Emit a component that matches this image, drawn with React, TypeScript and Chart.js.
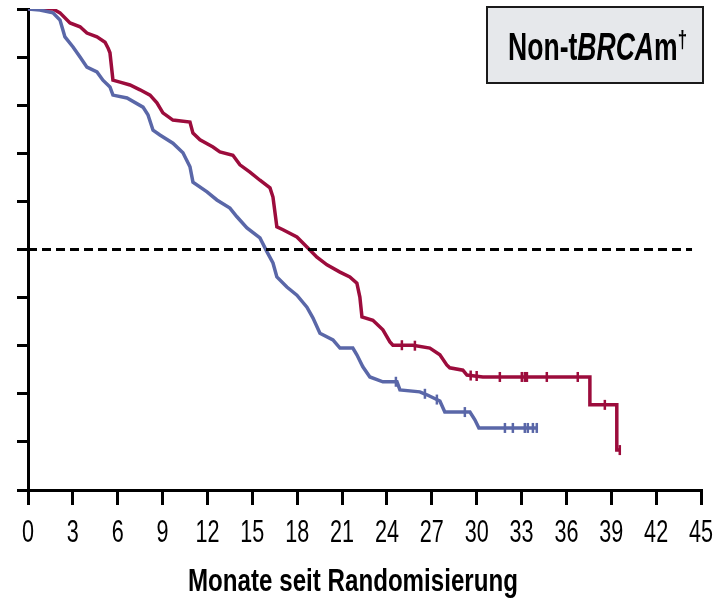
import React, { useEffect, useRef } from "react";
import { Chart, registerables } from "chart.js";

Chart.register(...registerables);

const xTicks = [0, 3, 6, 9, 12, 15, 18, 21, 24, 27, 30, 33, 36, 39, 42, 45];
const xTitle = "Monate seit Randomisierung";
const boxLabel = ["Non-t", "BRCA", "m", "†"];

// Kaplan-Meier paths (months, survival fraction)
const redTimes = [0, 1.67, 2.14, 2.81, 3.48, 3.94, 4.61, 5.15, 5.35, 5.48, 5.68, 6.15, 6.82, 7.49, 8.16, 8.62, 9.02, 9.69, 10.83, 11.03, 11.5, 12.37, 12.83, 13.7, 14.17, 14.84, 15.51, 16.18, 16.38, 16.64, 17.05, 17.98, 18.65, 19.32, 19.99, 20.86, 21.52, 21.99, 22.19, 22.33, 23.06, 23.73, 24.2, 24.4, 25.74, 26.87, 27.54, 28.0, 28.2, 29.08, 29.35, 30.41, 37.57, 37.57, 39.37, 39.37, 39.57];
const redSurv = [1.0, 1.0, 0.992, 0.971, 0.963, 0.95, 0.942, 0.931, 0.919, 0.909, 0.852, 0.848, 0.842, 0.832, 0.821, 0.805, 0.784, 0.769, 0.765, 0.742, 0.728, 0.713, 0.703, 0.696, 0.676, 0.661, 0.644, 0.628, 0.609, 0.547, 0.541, 0.526, 0.505, 0.484, 0.468, 0.453, 0.443, 0.43, 0.401, 0.36, 0.353, 0.333, 0.308, 0.301, 0.301, 0.295, 0.281, 0.26, 0.254, 0.249, 0.239, 0.235, 0.235, 0.177, 0.177, 0.083, 0.083];

const blueTimes = [0, 0.8, 1.67, 2.14, 2.47, 3.01, 3.48, 3.94, 4.61, 5.01, 5.48, 5.68, 6.62, 7.69, 8.02, 8.36, 8.82, 9.69, 10.36, 10.83, 11.03, 11.97, 12.63, 13.5, 13.97, 14.64, 15.51, 15.98, 16.38, 16.64, 17.31, 17.98, 18.65, 19.05, 19.52, 20.39, 20.86, 21.72, 21.99, 22.39, 22.86, 23.73, 24.67, 24.87, 26.2, 26.67, 27.54, 27.87, 29.55, 29.88, 30.15, 34.02];
const blueSurv = [1.0, 0.998, 0.992, 0.977, 0.942, 0.921, 0.9, 0.879, 0.869, 0.852, 0.838, 0.821, 0.815, 0.796, 0.78, 0.748, 0.738, 0.721, 0.701, 0.672, 0.64, 0.62, 0.603, 0.586, 0.568, 0.545, 0.524, 0.495, 0.472, 0.443, 0.422, 0.405, 0.38, 0.358, 0.326, 0.312, 0.295, 0.295, 0.281, 0.256, 0.235, 0.225, 0.225, 0.208, 0.204, 0.198, 0.185, 0.162, 0.162, 0.146, 0.129, 0.129];

const redCensorTimes = [25.0, 25.87, 29.6, 30.0, 31.55, 33.02, 33.22, 33.36, 34.69, 36.76, 38.57, 39.57];
const redCensorSurv = [0.301, 0.3, 0.238, 0.237, 0.235, 0.235, 0.235, 0.235, 0.235, 0.235, 0.177, 0.083];

const blueCensorTimes = [24.6, 26.54, 27.34, 29.21, 31.89, 32.42, 33.22, 33.42, 33.76, 34.02];
const blueCensorSurv = [0.225, 0.2, 0.188, 0.162, 0.129, 0.129, 0.129, 0.129, 0.129, 0.129];

const medianLineX = [0, 44.4];
const medianLineY = [0.5, 0.5];

const RED = "#9c0c3c";
const BLUE = "#5a67a8";
const SANS = "'Liberation Sans', Arial, sans-serif";

const zip = (xs: number[], ys: number[]) => xs.map((x, i) => ({ x, y: ys[i] }));

const textPlugin = {
  id: "textPlugin",
  afterDraw(chart: any) {
    const ctx = chart.ctx as CanvasRenderingContext2D;
    const xs = chart.scales.x;
    const bottom = xs.top;

    // tick labels (narrow look via horizontal compression)
    ctx.save();
    ctx.fillStyle = "#000";
    ctx.textAlign = "center";
    ctx.textBaseline = "alphabetic";
    ctx.font = `27px ${SANS}`;
    xTicks.forEach((v) => {
      const px = xs.getPixelForValue(v);
      ctx.save();
      ctx.translate(px, bottom + 52);
      ctx.scale(0.8, 1.14);
      ctx.fillText(String(v), 0, 0);
      ctx.restore();
    });
    ctx.restore();

    // axis title
    ctx.save();
    ctx.fillStyle = "#000";
    ctx.textAlign = "center";
    ctx.textBaseline = "alphabetic";
    ctx.font = `bold 28px ${SANS}`;
    const tw = ctx.measureText(xTitle).width;
    ctx.translate(353, bottom + 101);
    ctx.scale(330 / tw, 1.1);
    ctx.fillText(xTitle, 0, 0);
    ctx.restore();

    // label box
    ctx.save();
    ctx.fillStyle = "#e6e8eb";
    ctx.fillRect(487, 7, 216, 76);
    ctx.strokeStyle = "#1a1a1a";
    ctx.lineWidth = 2;
    ctx.strokeRect(487, 7, 216, 76);
    const fonts = [
      `bold 30px ${SANS}`,
      `italic bold 30px ${SANS}`,
      `bold 30px ${SANS}`,
      `bold 19px ${SANS}`,
    ];
    let total = 0;
    const widths: number[] = [];
    boxLabel.forEach((t, i) => {
      ctx.font = fonts[i];
      const w = ctx.measureText(t).width;
      widths.push(w);
      total += w;
    });
    const sx = 179 / total;
    ctx.translate(508, 60);
    ctx.scale(sx, 1.3);
    let x = 0;
    ctx.fillStyle = "#000";
    ctx.textBaseline = "alphabetic";
    ctx.textAlign = "left";
    boxLabel.forEach((t, i) => {
      ctx.font = fonts[i];
      const dy = i === 3 ? -9 : 0;
      ctx.fillText(t, x, dy);
      x += widths[i];
    });
    ctx.restore();
  },
};

export default function App() {
  const ref = useRef<HTMLCanvasElement | null>(null);
  useEffect(() => {
    document.body.style.margin = "0";
    const canvas = ref.current!;
    const chart = new Chart(canvas, {
      type: "line",
      data: {
        datasets: [
          {
            data: zip(medianLineX, medianLineY),
            borderColor: "#000",
            borderWidth: 3,
            borderDash: [9, 5],
            pointRadius: 0,
            fill: false,
          },
          {
            data: zip(blueTimes, blueSurv),
            borderColor: BLUE,
            borderWidth: 3.5,
            pointRadius: 0,
            tension: 0,
            fill: false,
          },
          {
            data: zip(redTimes, redSurv),
            borderColor: RED,
            borderWidth: 3.5,
            pointRadius: 0,
            tension: 0,
            fill: false,
          },
          {
            type: "scatter",
            data: zip(blueCensorTimes, blueCensorSurv),
            borderColor: BLUE,
            backgroundColor: BLUE,
            borderWidth: 2.5,
            pointStyle: "line",
            rotation: 90,
            pointRadius: 5,
            showLine: false,
          } as any,
          {
            type: "scatter",
            data: zip(redCensorTimes, redCensorSurv),
            borderColor: RED,
            backgroundColor: RED,
            borderWidth: 2.5,
            pointStyle: "line",
            rotation: 90,
            pointRadius: 5,
            showLine: false,
          } as any,
        ],
      },
      options: {
        animation: false,
        responsive: false,
        maintainAspectRatio: false,
        layout: { padding: { left: 0, right: 17, top: 9, bottom: 0 } },
        plugins: { legend: { display: false }, tooltip: { enabled: false } },
        scales: {
          x: {
            type: "linear",
            min: 0,
            max: 45,
            afterBuildTicks: (scale: any) => {
              scale.ticks = xTicks.map((v) => ({ value: v }));
            },
            afterFit: (scale: any) => {
              scale.height = 110;
            },
            grid: {
              display: true,
              drawOnChartArea: false,
              drawTicks: true,
              tickLength: 15,
              color: "#000",
              lineWidth: 3,
            },
            border: { display: true, color: "#000", width: 3 },
            ticks: { display: false },
          },
          y: {
            type: "linear",
            min: 0,
            max: 1,
            afterFit: (scale: any) => {
              scale.width = 28;
            },
            grid: {
              display: true,
              drawOnChartArea: false,
              drawTicks: true,
              tickLength: 11,
              color: "#000",
              lineWidth: 3,
            },
            border: { display: true, color: "#000", width: 3 },
            ticks: { display: false, stepSize: 0.1 },
          },
        },
      },
      plugins: [textPlugin],
    } as any);
    return () => chart.destroy();
  }, []);
  return (
    <div style={{ position: "fixed", left: 0, top: 0, width: 718, height: 600 }}>
      <canvas ref={ref} width={718} height={600} style={{ display: "block" }} />
    </div>
  );
}
